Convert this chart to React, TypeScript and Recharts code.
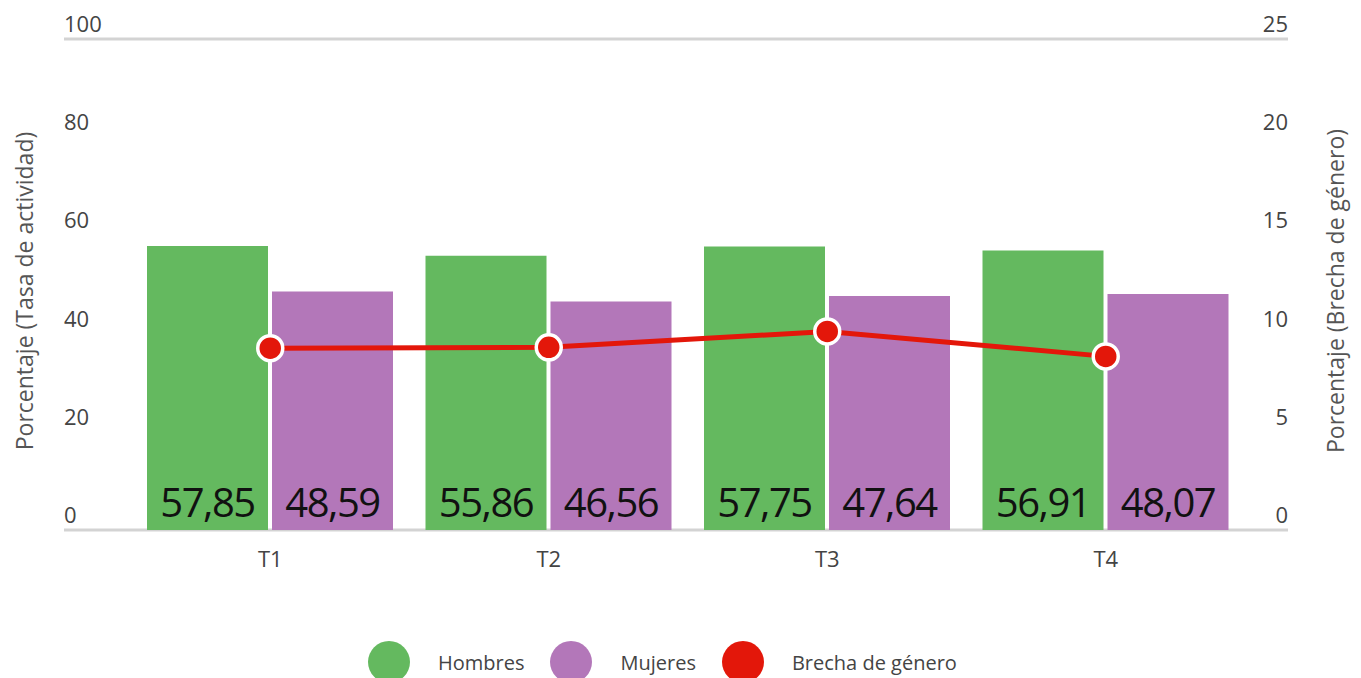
import {
  Bar,
  CartesianGrid,
  ComposedChart,
  LabelList,
  Line,
  XAxis,
  YAxis,
} from 'recharts';

const trimestres = ['T1', 'T2', 'T3', 'T4'];
const hombres = [57.85, 55.86, 57.75, 56.91];
const mujeres = [48.59, 46.56, 47.64, 48.07];
const brecha = [9.26, 9.3, 10.11, 8.84];

const leftTicks = [0, 20, 40, 60, 80, 100];
const rightTicks = [0, 5, 10, 15, 20, 25];

const GREEN = '#64b95f';
const PURPLE = '#b377b9';
const RED = '#e3170a';
const FONT = '"Open Sans", sans-serif';

const data = trimestres.map((t, i) => ({
  name: t,
  hombres: hombres[i],
  mujeres: mujeres[i],
  brecha: brecha[i],
}));

const W = 1345;
const H = 670;
const PLOT_LEFT = 56;
const PLOT_RIGHT = 1280;

function LeftTick(props: any) {
  const { y, payload } = props;
  return (
    <text x={PLOT_LEFT} y={y - 7} textAnchor="start" fontSize={22} fill="#444" fontFamily={FONT}>
      {payload.value}
    </text>
  );
}

function RightTick(props: any) {
  const { y, payload } = props;
  return (
    <text x={PLOT_RIGHT} y={y - 7} textAnchor="end" fontSize={22} fill="#444" fontFamily={FONT}>
      {payload.value}
    </text>
  );
}

function BarValue(props: any) {
  const { x, y, width, height, value } = props;
  return (
    <text
      x={x + width / 2}
      y={y + height - 13}
      textAnchor="middle"
      fontSize={40}
      letterSpacing={-1.5}
      fill="#111"
      fontFamily={FONT}
    >
      {String(value.toFixed(2)).replace('.', ',')}
    </text>
  );
}

function axisTitle(text: string, cx: number) {
  return () => (
    <text
      x={cx}
      y={283}
      transform={`rotate(-90 ${cx} 283)`}
      textAnchor="middle"
      dominantBaseline="central"
      fontSize={23}
      fill="#555"
      fontFamily={FONT}
    >
      {text}
    </text>
  );
}

const legendItems = [
  { label: 'Hombres', color: GREEN },
  { label: 'Mujeres', color: PURPLE },
  { label: 'Brecha de género', color: RED },
];

export default function App() {
  return (
    <div style={{ position: 'relative', width: W, height: H }}>
      <ComposedChart
        width={W}
        height={H}
        data={data}
        margin={{ top: 31, right: 0, bottom: 118, left: 0 }}
        barSize={121}
        barGap={4}
      >
        <CartesianGrid vertical={false} stroke="#d3d3d3" strokeWidth={3} />
        <XAxis
          dataKey="name"
          height={30}
          axisLine={false}
          tickLine={false}
          tickSize={0}
          tickMargin={21}
          padding={{ left: 67, right: 43 }}
          tick={{ fontSize: 22, fill: '#444', fontFamily: FONT }}
        />
        <YAxis
          yAxisId="left"
          width={56}
          domain={[0, 100]}
          ticks={leftTicks}
          axisLine={false}
          tickLine={false}
          tick={LeftTick}
          label={{ content: axisTitle('Porcentaje (Tasa de actividad)', 16) }}
        />
        <YAxis
          yAxisId="right"
          orientation="right"
          width={65}
          domain={[0, 25]}
          ticks={rightTicks}
          axisLine={false}
          tickLine={false}
          tick={RightTick}
          label={{ content: axisTitle('Porcentaje (Brecha de género)', 1327) }}
        />
        <Bar yAxisId="left" dataKey="hombres" name="Hombres" fill={GREEN} isAnimationActive={false}>
          <LabelList dataKey="hombres" content={BarValue} />
        </Bar>
        <Bar yAxisId="left" dataKey="mujeres" name="Mujeres" fill={PURPLE} isAnimationActive={false}>
          <LabelList dataKey="mujeres" content={BarValue} />
        </Bar>
        <Line
          yAxisId="right"
          dataKey="brecha"
          name="Brecha de género"
          stroke={RED}
          strokeWidth={5}
          dot={{ r: 12.5, fill: RED, stroke: '#fff', strokeWidth: 3.5 }}
          activeDot={false}
          isAnimationActive={false}
        />
      </ComposedChart>
      <div
        style={{
          position: 'absolute',
          top: 633,
          left: 360,
          display: 'flex',
          alignItems: 'center',
          fontFamily: FONT,
          fontSize: 20,
          color: '#444',
        }}
      >
        {legendItems.map((it) => (
          <div key={it.label} style={{ display: 'flex', alignItems: 'center', marginRight: 26 }}>
            <span
              style={{
                display: 'inline-block',
                width: 42,
                height: 42,
                borderRadius: '50%',
                background: it.color,
                marginRight: 28,
              }}
            />
            <span>{it.label}</span>
          </div>
        ))}
      </div>
    </div>
  );
}
